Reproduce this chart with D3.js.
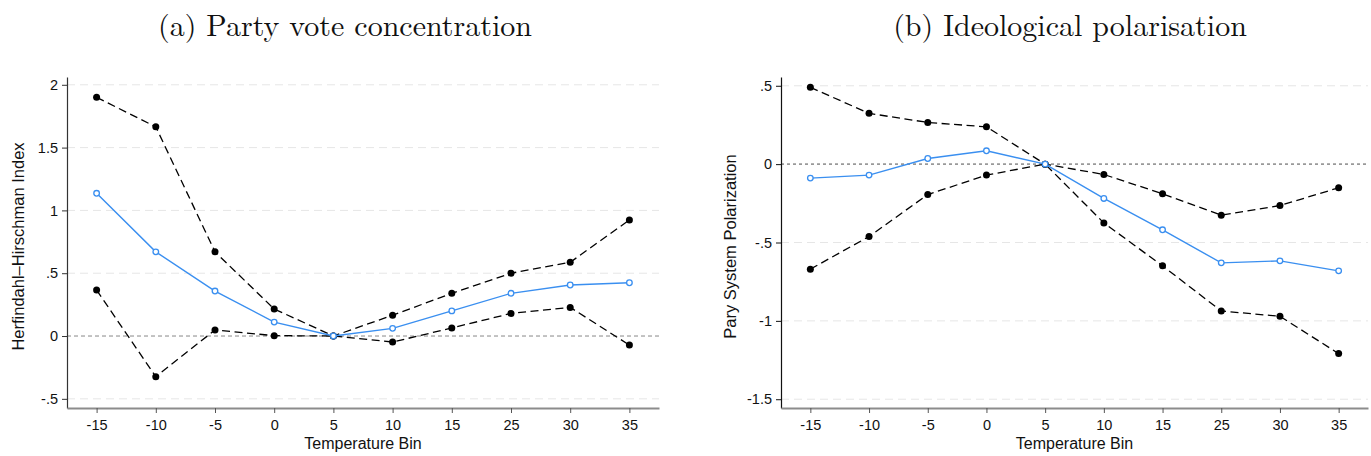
<!DOCTYPE html>
<html>
<head>
<meta charset="utf-8">
<script src="https://cdn.jsdelivr.net/npm/d3@7"></script>
<style>
  body { margin: 0; background: #fff; }
  svg { display: block; }
  .tick text { font-family: 'Liberation Sans', Arial, sans-serif; font-size: 14.5px; fill: #111; }
</style>
</head>
<body>
<svg id="chart" width="1371" height="456"></svg>
<script>
// ── DATA ────────────────────────────────────────────────────────────────
const bins = ['-15', '-10', '-5', '0', '5', '10', '15', '25', '30', '35'];

// (a) Herfindahl–Hirschman Index
const hhiEst   = [1.136, 0.67, 0.358, 0.111, 0, 0.061, 0.20, 0.34, 0.406, 0.424];
const hhiUpper = [1.90, 1.665, 0.67, 0.215, 0, 0.165, 0.34, 0.50, 0.587, 0.924];
const hhiLower = [0.366, -0.324, 0.048, 0.003, 0, -0.048, 0.064, 0.18, 0.228, -0.072];
const hhiTicks = [-0.5, 0, 0.5, 1, 1.5, 2];

// (b) Party system polarization
const polEst   = [-0.089, -0.070, 0.036, 0.085, 0, -0.219, -0.419, -0.630, -0.617, -0.681];
const polUpper = [0.49, 0.324, 0.266, 0.238, 0, -0.066, -0.189, -0.326, -0.264, -0.151];
const polLower = [-0.670, -0.462, -0.194, -0.070, 0, -0.375, -0.649, -0.937, -0.971, -1.209];
const polTicks = [-1.5, -1, -0.5, 0, 0.5];

const fmt = v => v === 0 ? '0' : String(v).replace(/^(-?)0\./, '$1.');

const svg = d3.select('#chart');

// ── PANEL ───────────────────────────────────────────────────────────────
function panel(opt) {
  const { x0, x1, yTop, yBot, domain, ticks, est, upper, lower, title, titleX, ylabel, ylabelX, zeroDash, yAxisColor } = opt;

  const x = d3.scalePoint().domain(bins).range([x0, x1]).padding(0.5);
  const y = d3.scaleLinear().domain(domain).range([yBot, yTop]);
  const g = svg.append('g');

  // grid
  g.selectAll('.grid').data(ticks.filter(t => t !== 0)).enter().append('line')
    .attr('x1', x0).attr('x2', x1)
    .attr('y1', d => y(d)).attr('y2', d => y(d))
    .attr('stroke', '#e6e6e6').attr('stroke-width', 1).attr('stroke-dasharray', '8,5');

  // zero reference
  g.append('line').attr('x1', x0).attr('x2', x1)
    .attr('y1', y(0)).attr('y2', y(0))
    .attr('stroke', zeroDash.color).attr('stroke-width', zeroDash.w).attr('stroke-dasharray', zeroDash.dash);

  // axes
  const ya = g.append('g').attr('transform', `translate(${x0},0)`)
    .call(d3.axisLeft(y).tickValues(ticks).tickFormat(fmt).tickSize(5).tickSizeOuter(0));
  ya.select('.domain').attr('stroke', yAxisColor).attr('stroke-width', 1.2);
  ya.selectAll('.tick line').attr('stroke', yAxisColor);
  ya.selectAll('.tick text').attr('dx', '-1');

  const xa = g.append('g').attr('transform', `translate(0,${yBot})`)
    .call(d3.axisBottom(x).tickSize(5).tickSizeOuter(0));
  xa.select('.domain').attr('stroke', '#8c8c8c').attr('stroke-width', 2);
  xa.selectAll('.tick line').attr('stroke', '#555');
  xa.selectAll('.tick text').attr('dy', '0.95em');

  // series
  const line = vals => d3.line().x((d, i) => x(bins[i])).y(d => y(d))(vals);

  [upper, lower].forEach(vals => {
    g.append('path').attr('d', line(vals)).attr('fill', 'none')
      .attr('stroke', '#000').attr('stroke-width', 1.3).attr('stroke-dasharray', '8,4.5');
    g.selectAll(null).data(vals).enter().append('circle')
      .attr('cx', (d, i) => x(bins[i])).attr('cy', d => y(d)).attr('r', 3.5).attr('fill', '#000');
  });

  g.append('path').attr('d', line(est)).attr('fill', 'none')
    .attr('stroke', '#3a8ff0').attr('stroke-width', 1.4);
  g.selectAll(null).data(est).enter().append('circle')
    .attr('cx', (d, i) => x(bins[i])).attr('cy', d => y(d)).attr('r', 2.8)
    .attr('fill', '#fff').attr('stroke', '#3a8ff0').attr('stroke-width', 1.3);

  // labels
  svg.append('text').attr('x', titleX).attr('y', 36).attr('text-anchor', 'middle')
    .attr('font-family', "'Latin Modern Roman', 'DejaVu Serif', 'Liberation Serif', serif")
    .attr('font-size', 30).attr('fill', '#111').text(title);

  svg.append('text').attr('x', (x0 + x1) / 2).attr('y', 449).attr('text-anchor', 'middle')
    .attr('font-family', "'Liberation Sans', Arial, sans-serif").attr('font-size', 16).attr('fill', '#111')
    .text('Temperature Bin');

  svg.append('text')
    .attr('transform', `translate(${ylabelX},${(yTop + yBot) / 2 + 4}) rotate(-90)`)
    .attr('text-anchor', 'middle')
    .attr('font-family', "'Liberation Sans', Arial, sans-serif").attr('font-size', 16.5).attr('fill', '#111')
    .text(ylabel);
}

panel({
  x0: 67, x1: 659, yTop: 77, yBot: 408, domain: [-0.573, 2.062], ticks: hhiTicks,
  est: hhiEst, upper: hhiUpper, lower: hhiLower,
  title: '(a) Party vote concentration', titleX: 345,
  ylabel: 'Herfindahl–Hirschman Index', ylabelX: 24,
  zeroDash: { color: '#888', w: 1, dash: '4,3' }, yAxisColor: '#333'
});

panel({
  x0: 781, x1: 1368, yTop: 77, yBot: 408, domain: [-1.556, 0.556], ticks: polTicks,
  est: polEst, upper: polUpper, lower: polLower,
  title: '(b) Ideological polarisation', titleX: 1070,
  ylabel: 'Pary System Polarization', ylabelX: 736,
  zeroDash: { color: '#999', w: 1.6, dash: '3,3' }, yAxisColor: '#111'
});
</script>
</body>
</html>
